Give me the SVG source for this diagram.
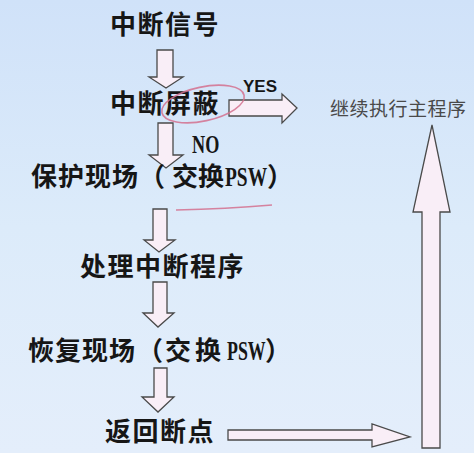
<svg xmlns="http://www.w3.org/2000/svg" width="474" height="453" viewBox="0 0 474 453">
<style>
.bg{fill:url(#bgg)}
.arr{fill:#f9eef7;stroke:#4a4a4a;stroke-width:1.3;stroke-linejoin:miter}
.t{font-family:"Noto Sans CJK SC","Noto Sans",sans-serif;fill:#161616}
.h{font-size:26px;font-weight:700;letter-spacing:1.5px}
.m{font-size:26px;font-weight:700}
.lat{font-family:"Liberation Serif","Noto Serif",serif;font-weight:700;font-size:27px;fill:#161616}
.red{fill:none;stroke:#d4708e;stroke-width:1.6;stroke-opacity:0.85}
</style>
<defs>
<linearGradient id="bgg" x1="0" y1="0" x2="0" y2="1">
<stop offset="0" stop-color="#d0e2f9"/>
<stop offset="0.5" stop-color="#dcebfa"/>
<stop offset="1" stop-color="#e4eefb"/>
</linearGradient>
</defs>
<rect class="bg" x="0" y="0" width="474" height="453"/>

<g id="connectors">
<polygon class="arr" points="157,50 173,50 173,77 183,77 166,88 149,77 157,77"/>
<polygon class="arr" points="158,123 173,123 173,155 183,155 166,168 149,155 158,155"/>
<polygon class="arr" points="153,209 167,209 167,240 175,240 159,252 144,240 153,240"/>
<polygon class="arr" points="153,282 167,282 167,313 174,313 158,327 143,313 153,313"/>
<polygon class="arr" points="154,368 167,368 167,397 174,397 158,412 142,397 154,397"/>
<polygon class="arr" points="229,100 282,100 282,94 297,108 282,123 282,116 229,116"/>
<polygon class="arr" points="228,430 372,430 372,424 410,437 372,447 372,440 228,440"/>
<polygon class="arr" points="422,448 422,212 413,212 432,125 450,212 440,212 440,448"/>
<text x="243" y="92" style="font-family:'Liberation Sans',Arial,sans-serif;font-size:17px;font-weight:700;fill:#161616">YES</text>
<text class="lat" transform="translate(192,153) scale(0.7,1)" style="font-size:26px">NO</text>
</g>

<g id="n1"><text class="t h" x="110" y="34">中断信号</text></g>
<g id="n2">
<text class="t h" x="110" y="113">中断屏蔽</text>
<ellipse class="red" cx="203" cy="104" rx="42" ry="17" transform="rotate(-12 203 104)"/>
</g>
<g id="n3">
<text class="t m" y="186"><tspan x="31" letter-spacing="1">保护现场</tspan><tspan x="139">（</tspan><tspan x="172">交换</tspan><tspan x="267">）</tspan></text>
<text class="lat" transform="translate(225,186) scale(0.72,1)">PSW</text>
<path class="red" d="M176,210 Q226,209 272,205"/>
</g>
<g id="n4"><text class="t h" x="80" y="276">处理中断程序</text></g>
<g id="n5">
<text class="t m" y="360"><tspan x="28" letter-spacing="1">恢复现场</tspan><tspan x="137">（</tspan><tspan x="165" letter-spacing="4">交换</tspan><tspan x="265">）</tspan></text>
<text class="lat" transform="translate(227,360) scale(0.66,1)">PSW</text>
</g>
<g id="n6"><text class="t h" x="105" y="441">返回断点</text></g>
<g id="n7"><text class="t" x="330" y="116" style="font-size:19px;fill:#4a4a4a;letter-spacing:0.5px">继续执行主程序</text></g>
</svg>
